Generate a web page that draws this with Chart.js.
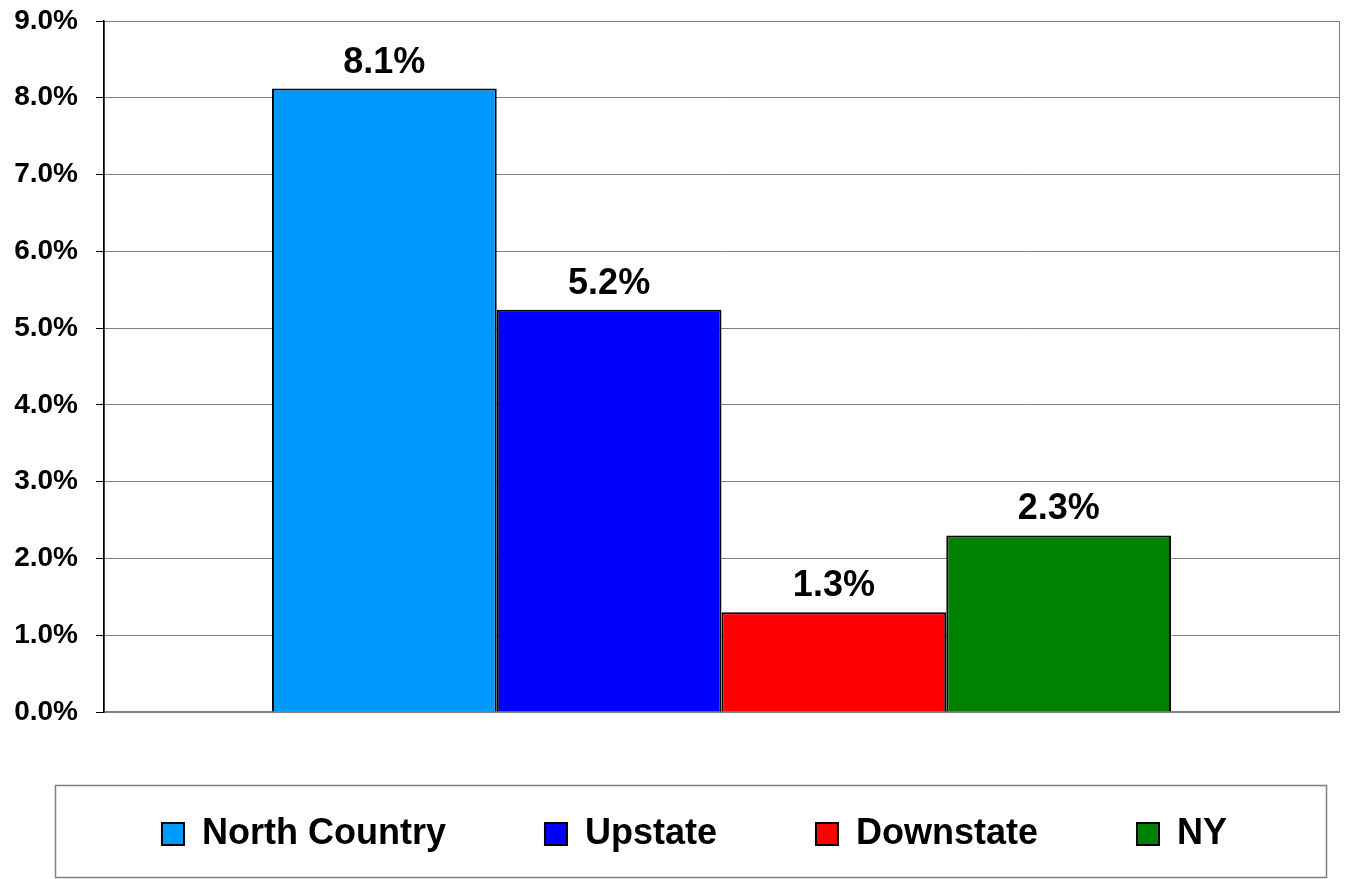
<!DOCTYPE html>
<html>
<head>
<meta charset="utf-8">
<script src="https://cdn.jsdelivr.net/npm/chart.js@4.4.1/dist/chart.umd.min.js"></script>
<style>
html,body{margin:0;padding:0;background:#fff;}
canvas{display:block;}
</style>
</head>
<body>
<canvas id="chart" width="1346" height="879"></canvas>
<script>
// data
const categories = [""];
const regions = ["North Country", "Upstate", "Downstate", "NY"];
const rates = [8.12, 5.24, 1.30, 2.30];
const regionColors = ["#0099FF", "#0000FF", "#FF0000", "#008000"];
const yTicks = [0, 1, 2, 3, 4, 5, 6, 7, 8, 9];

const FONT = "'Liberation Sans', Arial, sans-serif";
const LEGEND_SHIFT = 25;

// gray frame round the plot area, drawn before the axes so the black y axis sits on top
const plotFrame = {
  id: "plotFrame",
  beforeDraw(chart){
    const {ctx, chartArea: a} = chart;
    ctx.save();
    ctx.strokeStyle = "#808080";
    ctx.lineWidth = 1;
    ctx.strokeRect(a.left + 0.5, a.top + 0.5, a.right - a.left, a.bottom - a.top);
    ctx.restore();
  }
};

// legend row sits a bit right of the page centre in the reference
const legendShift = {
  id: "legendShift",
  afterLayout(chart){
    chart.legend.left += LEGEND_SHIFT;
    chart.legend.right += LEGEND_SHIFT;
  }
};

// value labels above each bar
const barLabels = {
  id: "barLabels",
  afterDatasetsDraw(chart){
    const ctx = chart.ctx;
    ctx.save();
    ctx.font = "bold 36px " + FONT;
    ctx.fillStyle = "#000";
    ctx.textAlign = "center";
    ctx.textBaseline = "alphabetic";
    chart.data.datasets.forEach((ds, i) => {
      chart.getDatasetMeta(i).data.forEach((bar, j) => {
        ctx.fillText(ds.data[j].toFixed(1) + "%", bar.x, bar.y - 16);
      });
    });
    ctx.restore();
  }
};

// box round the legend
const legendFrame = {
  id: "legendFrame",
  afterDraw(chart){
    const lg = chart.legend, ctx = chart.ctx;
    ctx.save();
    ctx.strokeStyle = "#808080";
    ctx.lineWidth = 1.5;
    ctx.strokeRect(lg.left + 30.5, lg.top + 68.5, 1271, 92);
    ctx.restore();
  }
};

const datasets = regions.map((name, i) => ({
  label: name,
  data: [rates[i]],
  backgroundColor: regionColors[i],
  borderColor: "#000",
  borderWidth: 2,
  borderSkipped: "bottom"
}));

new Chart(document.getElementById("chart"), {
  type: "bar",
  data: { labels: categories, datasets },
  options: {
    responsive: false,
    animation: false,
    devicePixelRatio: 1,
    layout: { padding: { top: 21, right: 7, bottom: 17, left: 0 } },
    datasets: { bar: { barPercentage: 1, categoryPercentage: 0.728 } },
    scales: {
      x: {
        grid: { display: false },
        border: { display: true, color: "#808080", width: 1.5 },
        ticks: { display: false },
        afterFit(s){ s.height = 5; }
      },
      y: {
        min: 0,
        max: 9,
        afterBuildTicks(s){ s.ticks = yTicks.map(v => ({ value: v })); },
        grid: { color: "#808080", lineWidth: 1, tickLength: 8, tickColor: "#000" },
        border: { display: true, color: "#000", width: 1.5 },
        ticks: {
          padding: 18,
          color: "#000",
          font: { family: FONT, size: 28, weight: "bold" },
          callback: v => v.toFixed(1) + "%"
        },
        afterFit(s){ s.width = 104; s.paddingTop = 0; s.paddingBottom = 0; }
      }
    },
    plugins: {
      tooltip: { enabled: false },
      legend: {
        position: "bottom",
        labels: {
          boxWidth: 22,
          boxHeight: 22,
          padding: 99,
          color: "#000",
          font: { family: FONT, size: 36, weight: "bold" }
        }
      }
    }
  },
  plugins: [plotFrame, legendShift, barLabels, legendFrame]
});
</script>
</body>
</html>
